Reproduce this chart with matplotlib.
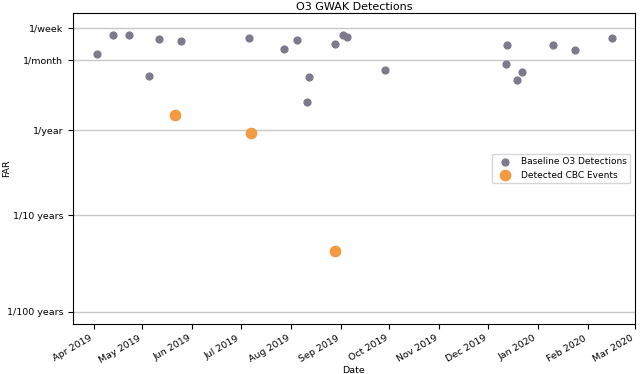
import matplotlib
matplotlib.use("Agg")
import matplotlib.pyplot as plt
import matplotlib.dates as mdates
import numpy as np
import pandas as pd

# GWAK metric (arbitrary units)
baseline_dates = ["2019-04-03", "2019-04-13", "2019-04-23", "2019-05-05", "2019-05-11",
                  "2019-05-25", "2019-07-06", "2019-07-28", "2019-08-05", "2019-08-12",
                  "2019-08-11", "2019-08-28", "2019-09-02", "2019-09-05", "2019-09-28",
                  "2019-12-13", "2019-12-12", "2019-12-22", "2019-12-19", "2020-01-10",
                  "2020-01-24", "2020-02-16"]
baseline_metric = [270.0, 288.7, 289.0, 247.7, 285.0,
                   283.3, 286.3, 275.0, 283.7, 247.0,
                   222.0, 280.0, 289.3, 287.3, 254.0,
                   279.0, 260.0, 251.7, 243.7, 278.7,
                   274.3, 285.7]

cbc_dates = ["2019-05-21", "2019-07-07", "2019-08-28"]
cbc_metric = [209.3, 190.7, 72.7]

far_ticks = [296.3, 264.0, 194.0, 108.7, 12.0]
far_labels = ["1/week", "1/month", "1/year", "1/10 years", "1/100 years"]

fig = plt.figure(figsize=(6.4, 3.74), dpi=100)
ax = fig.add_axes([0.114, 0.134, 0.878, 0.831])

ax.scatter(pd.to_datetime(baseline_dates), baseline_metric, s=24, color="#7f7a8b",
           label="Baseline O3 Detections", zorder=3)
ax.scatter(pd.to_datetime(cbc_dates), cbc_metric, s=55, color="#f39a45",
           label="Detected CBC Events", zorder=3)

ax.set_yticks(far_ticks)
ax.set_yticklabels(far_labels)
ax.set_ylim(0, 311)
ax.yaxis.grid(True, color="#c8c8c8", linewidth=1)
ax.set_axisbelow(True)

ax.set_xlim(pd.Timestamp("2019-03-19"), pd.Timestamp("2020-03-01"))
ax.xaxis.set_major_locator(mdates.MonthLocator())
ax.xaxis.set_major_formatter(mdates.DateFormatter("%b %Y"))
ax.tick_params(labelsize=6.8)
for lbl in ax.get_xticklabels():
    lbl.set_rotation(30)
    lbl.set_ha("right")

ax.set_xlabel("Date", fontsize=6.8, labelpad=1)
ax.set_ylabel("FAR", fontsize=6.8, labelpad=2)
ax.yaxis.set_label_coords(-0.11, 0.5)
ax.set_title("O3 GWAK Detections", fontsize=8, pad=2)
ax.legend(loc="center right", fontsize=6.5)

fig.savefig("out.png", dpi=100)
